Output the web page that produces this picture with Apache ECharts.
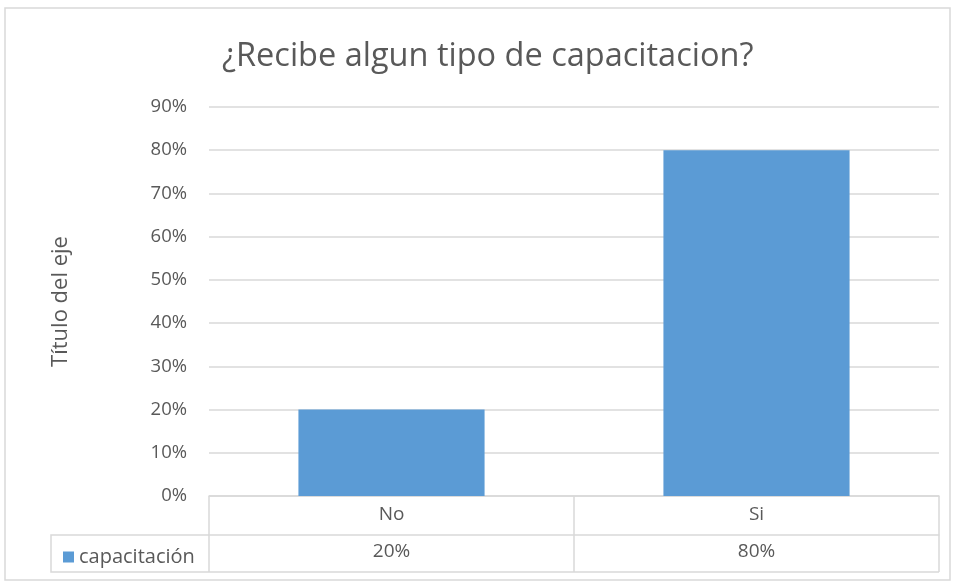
<!DOCTYPE html>
<html>
<head>
<meta charset="utf-8">
<script src="https://cdn.jsdelivr.net/npm/echarts@6/dist/echarts.min.js"></script>
<style>
  html, body { margin: 0; padding: 0; background: #fff; }
  #chart { width: 956px; height: 581px; }
</style>
</head>
<body>
<div id="chart"></div>
<script>
// datos
const categories = ["No", "Si"]
const seriesName = "capacitación"
const values = [0.2, 0.8]
const yTicks = [0, 0.1, 0.2, 0.3, 0.4, 0.5, 0.6, 0.7, 0.8, 0.9]

const pct = (v) => Math.round(v * 100) + "%"
const gray = "#595959"
const lineGray = "#d9d9d9"
const font = "Open Sans"

const chart = echarts.init(document.getElementById("chart"))

const option = {
  backgroundColor: "#fff",
  title: {
    text: "¿Recibe algun tipo de capacitacion?",
    left: 217,
    top: 35,
    textStyle: { color: gray, fontFamily: font, fontSize: 32.5, fontWeight: "normal" },
  },
  legend: {
    left: 58,
    top: 542,
    itemWidth: 11,
    itemHeight: 11,
    itemGap: 4,
    icon: "rect",
    textStyle: { color: gray, fontFamily: font, fontSize: 20, padding: [0, 0, 0, 0] },
    data: [seriesName],
  },
  grid: { left: 209, right: 17, top: 107, bottom: 85 },
  xAxis: [
    {
      type: "category",
      data: categories,
      axisLine: { lineStyle: { color: lineGray, width: 1.5 } },
      axisTick: { show: true, length: 76, lineStyle: { color: lineGray, width: 1.5 } },
      axisLabel: { color: gray, fontFamily: font, fontSize: 19, margin: 9 },
    },
    {
      type: "category",
      data: categories,
      position: "bottom",
      offset: 39,
      axisLine: { lineStyle: { color: lineGray, width: 1.5 } },
      axisTick: { show: false },
      axisLabel: {
        color: gray, fontFamily: font, fontSize: 19, margin: 7,
        formatter: (v, i) => pct(values[i]),
      },
    },
  ],
  yAxis: {
    type: "value",
    min: 0,
    max: yTicks[yTicks.length - 1],
    interval: 0.1,
    name: "Título del eje",
    nameLocation: "middle",
    nameRotate: 90,
    nameGap: 137,
    nameTextStyle: { color: gray, fontFamily: font, fontSize: 22 },
    axisLine: { show: false },
    axisTick: { show: false },
    splitLine: { lineStyle: { color: lineGray, width: 1.5 } },
    axisLabel: { color: gray, fontFamily: font, fontSize: 18.5, margin: 22, formatter: pct },
  },
  series: [
    {
      name: seriesName,
      type: "bar",
      data: values,
      barWidth: "51%",
      itemStyle: { color: "#5b9bd5" },
    },
  ],
  graphic: [
    // marco exterior
    { type: "rect", shape: { x: 5, y: 8, width: 945, height: 572 }, style: { fill: null, stroke: lineGray, lineWidth: 1.5 }, silent: true },
    // celda de la leyenda
    { type: "polyline", shape: { points: [[209, 535], [51, 535], [51, 572], [939, 572]] }, style: { fill: null, stroke: lineGray, lineWidth: 1.5 }, silent: true },
  ],
}

chart.setOption(option)
window.addEventListener("resize", () => chart.resize())
</script>
</body>
</html>
